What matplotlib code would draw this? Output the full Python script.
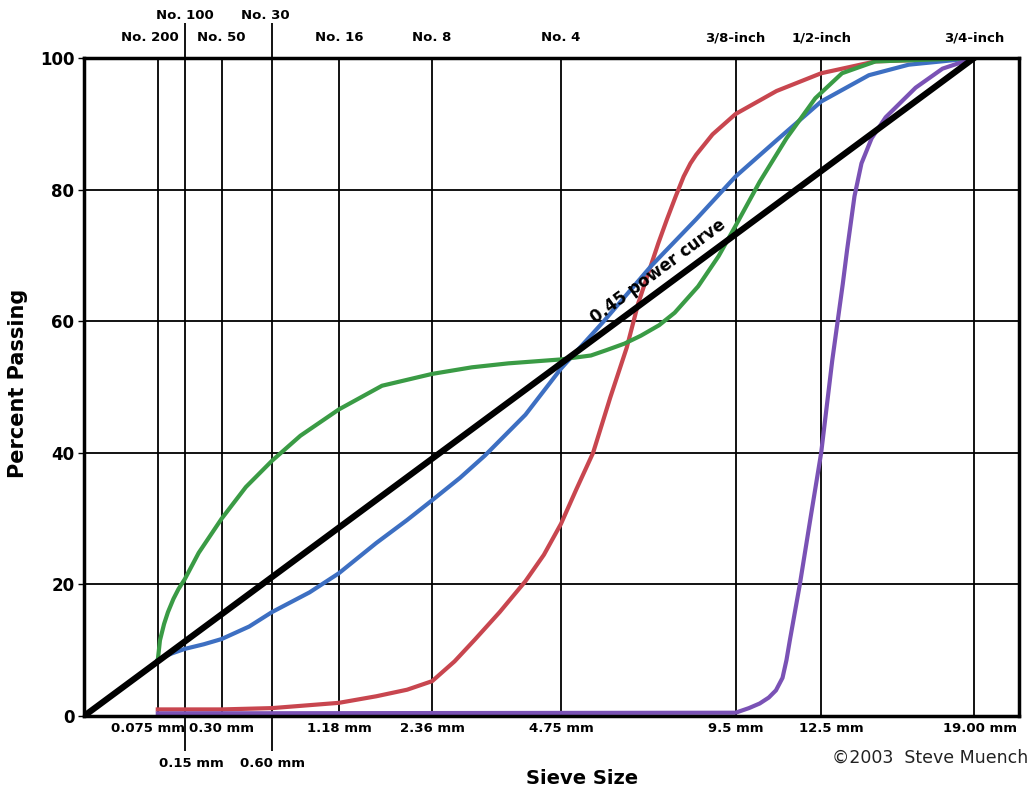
import numpy as np
import matplotlib.pyplot as plt

# sieve sizes (mm) and their names
sieve_mm = [0.075, 0.15, 0.30, 0.60, 1.18, 2.36, 4.75, 9.5, 12.5, 19.0]
mm_labels = ['0.075 mm', '0.15 mm', '0.30 mm', '0.60 mm', '1.18 mm',
             '2.36 mm', '4.75 mm', '9.5 mm', '12.5 mm', '19.00 mm']
no_labels = ['No. 200', 'No. 100', 'No. 50', 'No. 30', 'No. 16',
             'No. 8', 'No. 4', '3/8-inch', '1/2-inch', '3/4-inch']
# which labels sit on the second (outer) row
outer_row = [False, True, False, True, False, False, False, False, False, False]

# gradation curves: size (mm), percent passing
blue_mm = [0.075, 0.09, 0.11, 0.15, 0.22, 0.30, 0.45, 0.60, 0.90, 1.18, 1.6, 2.0,
           2.36, 2.8, 3.23, 4.0, 4.75, 5.75, 6.98, 8.27, 9.5, 10.88, 12.5, 14.37,
           16.04, 19.0]
blue_pct = [8.5, 9.0, 9.5, 10.2, 10.9, 11.7, 13.6, 15.8, 18.8, 21.7, 26.3, 29.8,
            32.8, 36.2, 39.6, 45.8, 52.8, 60.0, 68.4, 75.5, 82.0, 87.5, 93.4,
            97.4, 99.0, 100]

green_mm = [0.075, 0.08, 0.09, 0.10, 0.115, 0.13, 0.15, 0.20, 0.30, 0.43, 0.60,
            0.82, 1.18, 1.67, 2.36, 3.0, 3.66, 4.75, 5.44, 5.81, 6.27, 6.7, 7.2,
            7.64, 8.33, 8.96, 9.5, 10.3, 11.23, 12.28, 13.3, 14.64, 19.0]
green_pct = [8.5, 11.5, 14.0, 15.8, 17.8, 19.3, 20.8, 24.8, 30.0, 34.8, 38.8,
             42.6, 46.6, 50.2, 52.0, 53.0, 53.6, 54.2, 54.8, 55.6, 56.6, 57.8, 59.4,
             61.3, 65.3, 69.9, 74.5, 81.2, 87.8, 93.9, 97.7, 99.5, 100]

red_mm = [0.075, 0.30, 0.60, 1.18, 1.6, 2.0, 2.36, 2.71, 3.05, 3.50, 4.0, 4.38,
          4.75, 5.1, 5.49, 5.91, 6.33, 6.63, 7.18, 7.42, 7.67, 7.90, 8.1, 8.27,
          8.77, 9.5, 10.88, 12.5, 14.64, 19.0]
red_pct = [1.0, 1.0, 1.2, 2.0, 3.0, 4.0, 5.3, 8.3, 11.6, 15.8, 20.5, 24.5,
           29.2, 34.5, 40.0, 48.4, 56.0, 62.7, 71.9, 75.5, 79.0, 82.0, 84.0, 85.3,
           88.4, 91.5, 95.0, 97.7, 99.5, 100]

purple_mm = [0.075, 9.5, 9.94, 10.3, 10.61, 10.86, 11.09, 11.23, 11.35, 11.71,
             12.13, 12.5, 12.92, 13.33, 13.5, 13.79, 14.07, 14.48, 15.06, 16.34,
             17.54, 19.0]
purple_pct = [0.4, 0.5, 1.2, 1.9, 2.8, 3.9, 5.8, 8.5, 11.5, 20.0,
              30.8, 40.0, 54.0, 65.7, 70.9, 79.0, 84.0, 87.8, 91.0, 95.5,
              98.4, 100]

# maximum density line
max_mm = [0.0, 19.0]
max_pct = [0, 100]


def fwd(x):
    x = np.asarray(x, dtype=float)
    return np.sign(x) * np.abs(x) ** 0.45


def inv(u):
    u = np.asarray(u, dtype=float)
    return np.sign(u) * np.abs(u) ** (1 / 0.45)


fig = plt.figure(figsize=(10.3, 7.96), dpi=100)
ax = fig.add_axes([0.0816, 0.1005, 0.9077, 0.8265])
ax.set_xscale('function', functions=(fwd, inv))
ax.set_xlim(0, 21.2)
ax.set_ylim(0, 100)

lw = 3.0
ax.plot(red_mm, red_pct, color='#c8464f', lw=lw, solid_joinstyle='round', zorder=3)
ax.plot(blue_mm, blue_pct, color='#3d6fc2', lw=lw, solid_joinstyle='round', zorder=3)
ax.plot(green_mm, green_pct, color='#3a9b45', lw=lw, solid_joinstyle='round', zorder=3)
ax.plot(purple_mm, purple_pct, color='#7a52b5', lw=lw, solid_joinstyle='round', zorder=3)
ax.plot(max_mm, max_pct, color='black', lw=4.5, zorder=4)

# grid
major = [s for s, o in zip(sieve_mm, outer_row) if not o]
minor = [s for s, o in zip(sieve_mm, outer_row) if o]
ax.set_xticks(major)
ax.set_xticks(minor, minor=True)
ax.set_xticklabels([])
ax.set_xticklabels([], minor=True)
ax.set_yticks([0, 20, 40, 60, 80, 100])
ax.set_yticklabels(['0', '20', '40', '60', '80', '100'], fontsize=12, fontweight='bold')
ax.grid(True, which='both', color='black', lw=1.3)
ax.set_axisbelow(True)
ax.tick_params(axis='x', which='major', length=0)
ax.tick_params(axis='x', which='minor', length=25, width=1.3, top=True, bottom=True,
               direction='out', color='black')
ax.tick_params(axis='y', length=4, width=1, pad=3)
for sp in ax.spines.values():
    sp.set_linewidth(2.5)
    sp.set_zorder(5)

# sieve labels, bottom (mm) and top (sieve number)
bottom_dx = [-7, 5, 0, 0, 0, 0, 0, 0, 7, 4]
top_dx = [-6, 0, 0, -5, 0, 0, 0, 0, 0, 0]
xt = ax.get_xaxis_transform()
for s, lab_mm, lab_no, o, bdx, tdx in zip(sieve_mm, mm_labels, no_labels, outer_row,
                                           bottom_dx, top_dx):
    ax.annotate(lab_mm, xy=(s, 0), xycoords=xt,
                xytext=(bdx, -34 if o else -9), textcoords='offset points',
                ha='center', va='center', fontsize=9.5, fontweight='bold')
    ax.annotate(lab_no, xy=(s, 1), xycoords=xt,
                xytext=(tdx, 31 if o else 14.5), textcoords='offset points',
                ha='center', va='center', fontsize=9.5, fontweight='bold')

# label along the max density line
p0 = ax.transData.transform((max_mm[0], max_pct[0]))
p1 = ax.transData.transform((max_mm[1], max_pct[1]))
ang = np.degrees(np.arctan2(p1[1] - p0[1], p1[0] - p0[0]))
x_lab = 7.45
y_lab = fwd(x_lab) / fwd(19.0) * 100
nx, ny = -np.sin(np.radians(ang)) * 5, np.cos(np.radians(ang)) * 5
ax.annotate('0.45 power curve', xy=(x_lab, y_lab), xytext=(nx, ny),
            textcoords='offset points', rotation=ang, rotation_mode='anchor',
            ha='center', va='bottom', fontsize=12, fontweight='bold', zorder=6)

fig.text(0.0175, 0.519, 'Percent Passing', rotation=90, ha='center', va='center',
         fontsize=15, fontweight='bold')
fig.text(0.565, 0.0226, 'Sieve Size', ha='center', va='center',
         fontsize=14, fontweight='bold')
fig.text(0.998, 0.0477, '\u00a92003  Steve Muench', ha='right', va='center',
         fontsize=12.5, color='#222222')

fig.savefig('out.png', dpi=100)
